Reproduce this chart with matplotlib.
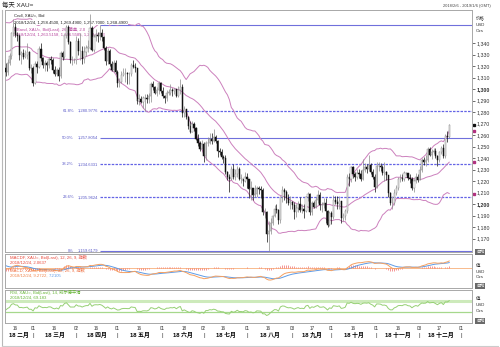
import numpy as np
import pandas as pd
import matplotlib
matplotlib.use('Agg')
import matplotlib.pyplot as plt
import matplotlib.transforms as mtransforms

plt.rcParams['font.family'] = ['Liberation Sans', 'Noto Sans CJK SC']

##
#   Daily XAU= bid, 2018, one list per month (weekdays only)
#   January only feeds the indicators, candles start in February
jan_close = [1316, 1313, 1322, 1320, 1319, 1313, 1319, 1322, 1338, 1340, 1337,
             1327, 1327, 1333, 1332, 1342, 1362, 1348, 1352, 1340, 1341, 1345]
feb_close = [1347, 1333, 1338, 1325, 1317, 1318, 1315, 1323, 1329, 1349, 1354,
             1347, 1346, 1330, 1331, 1328, 1330, 1332, 1318, 1318]
mar_close = [1305, 1322, 1319, 1335, 1327, 1321, 1323, 1321, 1326, 1325, 1317,
             1313, 1317, 1311, 1331, 1328, 1347, 1354, 1341, 1325, 1325, 1325]
apr_close = [1342, 1333, 1333, 1326, 1332, 1336, 1336, 1353, 1334, 1345, 1347,
             1346, 1349, 1345, 1336, 1324, 1333, 1322, 1317, 1323, 1315]
may_close = [1305, 1306, 1312, 1314, 1314, 1313, 1313, 1321, 1319, 1318, 1290,
             1291, 1289, 1292, 1292, 1291, 1294, 1304, 1302, 1297, 1299, 1305, 1298]
jun_close = [1294, 1292, 1297, 1297, 1299, 1298, 1300, 1294, 1299, 1302, 1279,
             1283, 1276, 1268, 1263, 1270, 1266, 1257, 1253, 1248, 1252]
jul_close = [1242, 1253, 1253, 1257, 1255, 1258, 1255, 1246, 1245, 1241, 1240,
             1228, 1224, 1222, 1231, 1224, 1226, 1231, 1222, 1222, 1220, 1224]
aug_close = [1222, 1213, 1214, 1208, 1209, 1214, 1213, 1212, 1193, 1193, 1174,
             1177, 1184, 1190, 1196, 1195, 1186, 1206, 1212, 1211, 1205, 1201, 1202]
sep_close = [1199, 1193, 1197, 1200, 1195, 1196, 1194, 1206, 1209, 1193, 1201,
             1198, 1204, 1208, 1199, 1199, 1201, 1194, 1182, 1192]
oct_close = [1189, 1204, 1202, 1200, 1203, 1188, 1190, 1194, 1224, 1222, 1232,
             1226, 1224, 1227, 1226, 1222, 1230, 1232, 1231, 1234, 1228, 1224, 1215]
nov_close = [1233, 1233, 1232, 1227, 1228, 1225, 1210, 1201, 1201, 1210, 1214,
             1222, 1223, 1222, 1227, 1227, 1223, 1222, 1214, 1220, 1224, 1221]
dec_close = [1230, 1238, 1237, 1238, 1248, 1243, 1245, 1246, 1242, 1238, 1245,
             1249, 1242, 1259, 1258.45, 1268.49]

feb_high = [1350, 1349, 1346, 1340, 1330, 1323, 1323, 1326, 1331, 1350, 1361,
            1357, 1350, 1348, 1333, 1335, 1334, 1340, 1333, 1322]
mar_high = [1320, 1324, 1324, 1337, 1340, 1328, 1325, 1324, 1328, 1329, 1327,
            1320, 1318, 1319, 1333, 1333, 1348, 1356, 1356, 1342, 1329, 1327]
apr_high = [1346, 1344, 1349, 1337, 1337, 1338, 1343, 1365, 1355, 1348, 1352,
            1350, 1356, 1352, 1346, 1337, 1336, 1335, 1324, 1325, 1325]
may_high = [1317, 1310, 1316, 1318, 1318, 1315, 1315, 1323, 1325, 1323, 1318,
            1296, 1294, 1294, 1296, 1296, 1297, 1306, 1307, 1303, 1302, 1307, 1306]
jun_high = [1302, 1295, 1299, 1300, 1304, 1301, 1301, 1300, 1303, 1309, 1304,
            1285, 1283, 1277, 1272, 1272, 1271, 1267, 1261, 1255, 1256]
jul_high = [1254, 1255, 1258, 1262, 1262, 1265, 1260, 1256, 1249, 1248, 1243,
            1243, 1229, 1226, 1233, 1235, 1231, 1233, 1232, 1226, 1222, 1228]
aug_high = [1227, 1222, 1220, 1214, 1217, 1216, 1216, 1216, 1214, 1197, 1194,
            1185, 1188, 1191, 1199, 1200, 1196, 1207, 1216, 1214, 1212, 1209, 1207]
sep_high = [1203, 1202, 1200, 1203, 1206, 1200, 1200, 1207, 1211, 1210, 1203,
            1203, 1206, 1212, 1211, 1202, 1205, 1205, 1195, 1194]
oct_high = [1194, 1208, 1207, 1207, 1207, 1203, 1192, 1196, 1226, 1227, 1233,
            1233, 1228, 1231, 1231, 1230, 1239, 1236, 1235, 1243, 1236, 1231, 1226]
nov_high = [1237, 1237, 1236, 1234, 1237, 1229, 1223, 1211, 1207, 1213, 1217,
            1224, 1226, 1226, 1229, 1228, 1227, 1226, 1224, 1222, 1227, 1226]
dec_high = [1233, 1240, 1241, 1243, 1250, 1250, 1248, 1249, 1249, 1243, 1246,
            1251, 1252, 1261, 1264, 1269.49]

feb_low = [1340, 1331, 1323, 1322, 1316, 1307, 1311, 1312, 1321, 1326, 1346,
           1345, 1342, 1325, 1322, 1326, 1327, 1326, 1317, 1314]
mar_low = [1303, 1304, 1314, 1318, 1324, 1318, 1316, 1316, 1318, 1322, 1314,
           1311, 1311, 1307, 1310, 1325, 1326, 1344, 1339, 1323, 1321, 1323]
apr_low = [1322, 1330, 1325, 1322, 1323, 1329, 1332, 1335, 1333, 1332, 1342,
           1341, 1343, 1342, 1334, 1321, 1322, 1320, 1316, 1315, 1313]
may_low = [1302, 1302, 1305, 1311, 1306, 1304, 1304, 1311, 1318, 1315, 1287,
           1286, 1288, 1284, 1281, 1288, 1288, 1289, 1299, 1296, 1294, 1296, 1297]
jun_low = [1292, 1288, 1290, 1295, 1295, 1294, 1296, 1293, 1293, 1296, 1276,
           1276, 1274, 1265, 1262, 1263, 1264, 1256, 1251, 1246, 1249]
jul_low = [1237, 1238, 1251, 1252, 1252, 1254, 1253, 1241, 1243, 1239, 1236,
           1226, 1221, 1211, 1221, 1222, 1221, 1224, 1221, 1218, 1216, 1219]
aug_low = [1214, 1205, 1204, 1204, 1206, 1206, 1209, 1205, 1191, 1188, 1167,
           1159.6, 1174, 1182, 1189, 1192, 1183, 1184, 1202, 1204, 1201, 1199, 1196]
sep_low = [1196, 1187, 1189, 1193, 1193, 1192, 1188, 1193, 1203, 1191, 1191,
           1197, 1197, 1201, 1195, 1193, 1197, 1184, 1180, 1181]
oct_low = [1183, 1187, 1200, 1196, 1196, 1184, 1185, 1186, 1192, 1216, 1219,
           1223, 1220, 1222, 1223, 1220, 1221, 1228, 1227, 1229, 1226, 1222, 1211]
nov_low = [1214, 1229, 1229, 1225, 1220, 1221, 1206, 1199, 1196, 1199, 1208,
           1212, 1219, 1220, 1220, 1225, 1221, 1218, 1212, 1211, 1218, 1219]
dec_low = [1221, 1228, 1234, 1233, 1237, 1242, 1239, 1244, 1240, 1233, 1237,
           1244, 1240, 1240, 1254, 1257.70]

#   Fibonacci retracement (anchored at the 2018/4/18 high), 100% label is hidden
fib_pct = ['0%', '23.6%', '38.2%', '50.0%', '61.8%', '100.0%']
fib_price = [1159.6179, 1205.9624, 1234.6331, 1257.8054, 1280.9776, 1355.9929]
fib_start = '2018-04-18'

#   Right axis ticks
price_ticks = [1170, 1180, 1190, 1200, 1210, 1220, 1230, 1240, 1250, 1260,
               1270, 1280, 1290, 1300, 1310, 1320, 1330, 1340]
month_cn = ['一月', '二月', '三月', '四月', '五月', '六月', '七月', '八月',
            '九月', '十月', '十一月', '十二月']

close = np.array(jan_close + feb_close + mar_close + apr_close + may_close +
                 jun_close + jul_close + aug_close + sep_close + oct_close +
                 nov_close + dec_close, dtype=float)
high = np.array(feb_high + mar_high + apr_high + may_high + jun_high + jul_high +
                aug_high + sep_high + oct_high + nov_high + dec_high, dtype=float)
low = np.array(feb_low + mar_low + apr_low + may_low + jun_low + jul_low +
               aug_low + sep_low + oct_low + nov_low + dec_low, dtype=float)

cal = pd.bdate_range('2018-01-02', '2019-01-04')
idx = np.arange(len(close))
first = len(jan_close)

#   Candles: open = previous close
cx = idx[first:]
c = close[first:]
o = close[first - 1:-1]
h = np.maximum(high, np.maximum(o, c))
l = np.minimum(low, np.minimum(o, c))
up = c >= o

#   Indicators
s = pd.Series(close)
mid = s.rolling(26).mean()
sd = s.rolling(26).std(ddof=0)
upper = mid + 2 * sd
lower = mid - 2 * sd
macd = s.ewm(span=12, adjust=False).mean() - s.ewm(span=26, adjust=False).mean()
signal = macd.ewm(span=9, adjust=False).mean()
hist = macd - signal
d = s.diff()
gain = d.clip(lower=0).ewm(alpha=1 / 14, adjust=False).mean()
loss = (-d.clip(upper=0)).ewm(alpha=1 / 14, adjust=False).mean()
rsi = 100 - 100 / (1 + gain / loss)

##
#   Figure in pixel units (500 x 347)
W, H = 500.0, 347.0
def pbox(x0, y0, x1, y1):
    return [x0 / W, 1 - y1 / H, (x1 - x0) / W, (y1 - y0) / H]
def fx(x):
    return x / W
def fy(y):
    return 1 - y / H

fig = plt.figure(figsize=(5.0, 3.47), dpi=100)
ax = fig.add_axes(pbox(5, 10, 472, 252))
axm = fig.add_axes(pbox(5, 254, 472, 288))
axr = fig.add_axes(pbox(5, 290, 472, 323))

xlo, xhi = 27.7, 265.6
for a in (ax, axm, axr):
    a.set_xlim(xlo, xhi)
    for sp in a.spines.values():
        sp.set_color('#a8a8a8')
        sp.set_linewidth(0.7)

#   Price panel
ax.vlines(cx, l, h, colors=np.where(up, '#8a8a8a', '#111111'), lw=0.5, zorder=3)
ax.bar(cx, np.maximum(np.abs(c - o), 0.4), bottom=np.minimum(o, c), width=0.62,
       color=np.where(up, 'white', '#111111'),
       edgecolor=np.where(up, '#8a8a8a', '#111111'), linewidth=0.35, zorder=3.1)
for band in (upper, mid, lower):
    ax.plot(idx, band, color='#cc80bd', lw=0.7, zorder=2)

fib_x0 = cal.get_loc(pd.Timestamp(fib_start))
for pct, pr in zip(fib_pct, fib_price):
    if pct in ('0%', '50.0%', '100.0%'):
        ax.hlines(pr, fib_x0, xhi, color='#7070dc', lw=0.8, zorder=1)
    else:
        ax.hlines(pr, fib_x0, xhi, color='#6464e6', lw=0.9, linestyles=(0, (2.0, 1.0)), zorder=1)
    if pct == '100.0%':
        continue
    ax.annotate(pct, xy=(fib_x0, pr), xytext=(-18.7, 0), textcoords='offset points',
                ha='right', va='center', fontsize=3, color='#5a5ac8', zorder=1)
    ax.annotate(f'{pr:,.4f}', xy=(fib_x0, pr), xytext=(-1.4, 0), textcoords='offset points',
                ha='right', va='center', fontsize=3, color='#5a5ac8', zorder=1)

ax.set_ylim(1158.5, 1368.7)
ax.set_xticks([])
ax.yaxis.tick_right()
ax.set_yticks(price_ticks)
ax.set_yticklabels([f'{v:,}' for v in price_ticks])
ax.tick_params(axis='y', labelsize=3.8, length=2, width=0.5, pad=1, colors='#333333')
for t in ax.get_yticklabels():
    if t.get_text() in ('1,300', '1,200'):
        t.set_fontweight('bold')

#   Last value markers on the right edge
mk = mtransforms.blended_transform_factory(ax.transAxes, ax.transData)
ax.plot([1.005], [c[-1]], marker='s', ms=1.6, color='#111111', transform=mk, clip_on=False)
for v in (upper.iloc[-1], mid.iloc[-1], lower.iloc[-1]):
    ax.plot([1.005], [v], marker='s', ms=1.6, color='#b0307f', transform=mk, clip_on=False)

hdr = dict(transform=fig.transFigure, fontsize=3.1, va='center', zorder=2.6,
           bbox=dict(fc='white', ec='none', pad=0.2))
ax.text(fx(14), fy(16), 'Cndl, XAU=, Bid', color='#222222', **hdr)
ax.text(fx(14), fy(22.7), '2018/12/24, 1,258.4500, 1,269.4900, 1,257.7000, 1,268.4900',
        color='#222222', **hdr)
ax.text(fx(14), fy(29), 'BBand, XAU=, Bid(Last), 26, 简单, 2.0', color='#b8479f', **hdr)
ax.text(fx(14), fy(34.5), '2018/12/24, 1,263.5158, 1,236.5585, 1,209.6013',
        color='#b8479f', **hdr)

#   MACD panel
axm.axhline(0, color='#f7b07a', lw=0.6)
axm.vlines(idx, 0, hist, colors='#f26a6a', lw=0.5)
axm.plot(idx, signal, color='#5e9be6', lw=0.7)
axm.plot(idx, macd, color='#f5a060', lw=0.7)
axm.set_ylim(-26.5, 18.5)
axm.set_xticks([])
axm.set_yticks([])

#   RSI panel
axr.axhline(70, color='#cdeabb', lw=2.2)
axr.axhline(30, color='#a6d88c', lw=0.9)
axr.plot(idx, rsi, color='#96d074', lw=0.7)
axr.set_ylim(-6.9, 106.9)
axr.set_yticks([])

#   Date axis: first trading day and the 16th of every month
tick_pos, tick_lab, starts = [], [], []
for m in pd.period_range('2018-02', '2019-01', freq='M'):
    days = cal[(cal.year == m.year) & (cal.month == m.month)]
    starts.append(cal.get_loc(days[0]))
    later = days[days.day >= 16]
    for dd in [days[0]] + ([later[0]] if len(later) else []):
        p = cal.get_loc(dd)
        if xlo <= p <= xhi:
            tick_pos.append(p)
            tick_lab.append(dd.strftime('%d'))
axr.set_xticks(tick_pos)
axr.set_xticklabels(tick_lab)
axr.tick_params(axis='x', labelsize=3.3, length=0, pad=2.2, colors='#333333')

bt = mtransforms.blended_transform_factory(axr.transData, axr.transAxes)
for k, m in enumerate(pd.period_range('2018-02', '2018-12', freq='M')):
    x0 = max(starts[k], xlo)
    x1 = starts[k + 1]
    axr.text((x0 + x1) / 2, -0.37, f'18 {month_cn[m.month - 1]}', transform=bt,
             ha='center', va='center', fontsize=4.2, fontweight='bold', clip_on=False)
    axr.text(x1, -0.37, '|', transform=bt, ha='center', va='center', fontsize=4.2,
             color='#333333', clip_on=False)

#   Panel texts
fig.text(fx(2), fy(5), '每天 XAU=', fontsize=4.6, va='center', color='#222222')
fig.text(fx(491), fy(6.5), '2018/2/6 - 2019/1/6 (GMT)', fontsize=2.9, ha='right',
         va='center', color='#444444')
for y, t in ((18, '价格'), (24.5, 'USD'), (31, 'Ozs'),
             (266, '值'), (272, 'USD'), (277.5, 'Ozs'),
             (299, '值'), (305, 'USD'), (311.5, 'Ozs')):
    fig.text(fx(476), fy(y), t, fontsize=3.2, va='center', color='#333333')
for yb in (251.7, 285.7, 320.7):
    fig.text(fx(476), fy(yb), '自动', fontsize=3.0, va='center', color='white',
             bbox=dict(fc='#6a6a6a', ec='none', pad=0.6))

fig.text(fx(10), fy(257), 'MACDF, XAU=, Bid(Last), 12, 26, 9, 指数', fontsize=3.1,
         va='center', color='#e9483b')
fig.text(fx(10), fy(262.5), '2018/12/24, 2.0637', fontsize=3.1, va='center', color='#e9483b')
fig.text(fx(10), fy(270.5), 'MACD, XAU=, Bid(Last), 12, 26, 9, 指数', fontsize=3.1,
         va='center', color='#ee6a3a')
t1 = fig.text(fx(10), fy(276), '2018/12/24, 9.2722, ', fontsize=3.1, va='center',
              color='#f0844a')
axm.annotate('7.2105', xy=(1, 0.5), xycoords=t1, ha='left', va='center', fontsize=3.1,
             color='#5e9be6', annotation_clip=False)
fig.text(fx(10), fy(292.7), 'RSI, XAU=, Bid(Last), 14, 威尔德平滑', fontsize=3.1,
         va='center', color='#66b536')
fig.text(fx(10), fy(297.5), '2018/12/24, 69.183', fontsize=3.1, va='center', color='#66b536')

#   Outer frame
fig.add_artist(plt.Line2D([fx(1.5), fx(1.5)], [fy(10), fy(346)], color='#b8b8b8', lw=0.8))
fig.add_artist(plt.Line2D([fx(1.5), fx(498)], [fy(346), fy(346)], color='#cccccc', lw=0.8))

fig.savefig('out.png', dpi=100)
